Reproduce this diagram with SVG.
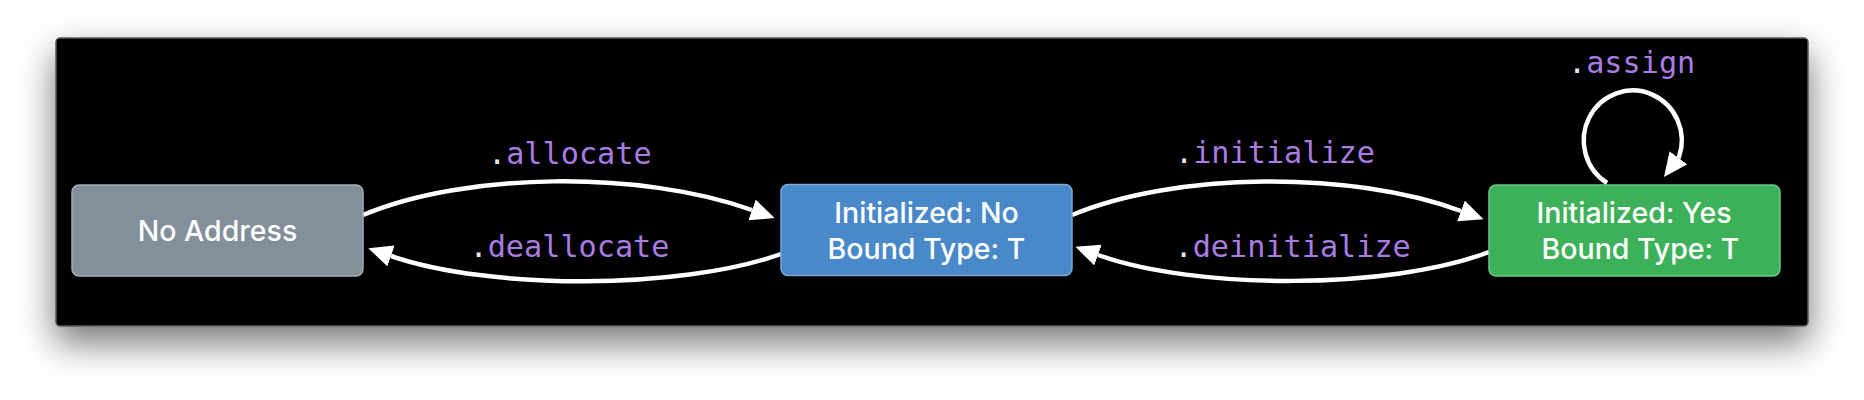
<svg xmlns="http://www.w3.org/2000/svg" width="1864" height="400" viewBox="0 0 1864 400">
<style>
.node-label{font-family:Inter,"Liberation Sans",Arial,sans-serif;font-weight:500;font-size:28.5px;fill:#ffffff;text-anchor:middle}
.edge-label{font-family:"DejaVu Sans Mono","Liberation Mono",monospace;font-size:30.2px;fill:#a97ce3}
.dot{fill:#e6e6e6}
.edge{fill:none;stroke:#ffffff;stroke-width:4.5;marker-end:url(#arrow)}
</style>
<defs>
<filter id="shadow" x="-10%" y="-30%" width="120%" height="170%">
<feDropShadow dx="0" dy="16" stdDeviation="18" flood-color="#000" flood-opacity="0.55"/>
</filter>
<marker id="arrow" markerUnits="userSpaceOnUse" markerWidth="26" markerHeight="24" refX="0" refY="11" orient="auto">
<path d="M0,0 L24,11 L0,22 z" fill="#ffffff"/>
</marker>
</defs>
<rect width="1864" height="400" fill="#ffffff"/>
<rect id="frame" x="56" y="38" width="1752" height="288" rx="4" fill="#000000" stroke="#5a5a5a" stroke-width="1.5" filter="url(#shadow)"/>

<g id="connectors">
<path class="edge" d="M363,215 C465,172 640,170 752,210"/>
<path class="edge" d="M781,254 C680,290 490,290 391,256"/>
<path class="edge" d="M1072,215 C1175,172 1350,170 1461,211"/>
<path class="edge" d="M1489,252 C1390,290 1195,290 1098,255"/>
<path class="edge" d="M1607,183 A49,50 0 1 1 1679,157 l-0.6,0.8"/>
<text class="edge-label" x="488" y="164"><tspan class="dot">.</tspan>allocate</text>
<text class="edge-label" x="469.5" y="257"><tspan class="dot">.</tspan>deallocate</text>
<text class="edge-label" x="1175" y="163"><tspan class="dot">.</tspan>initialize</text>
<text class="edge-label" x="1174.5" y="257"><tspan class="dot">.</tspan>deinitialize</text>
<text class="edge-label" x="1568" y="73"><tspan class="dot">.</tspan>assign</text>
</g>

<g id="node-no-address">
<rect x="72" y="185" width="291" height="91" rx="7" fill="#848f9c" stroke="#a3acb7" stroke-width="1.5"/>
<text class="node-label" x="217.5" y="241">No Address</text>
</g>

<g id="node-initialized-no">
<rect x="781" y="184.5" width="291" height="91" rx="7" fill="#4a89c9" stroke="#7aa9da" stroke-width="1.5"/>
<text class="node-label" x="926.5" y="223">Initialized: No</text>
<text class="node-label" x="926.5" y="258.5">Bound Type: T</text>
</g>

<g id="node-initialized-yes">
<rect x="1489" y="185" width="291" height="91" rx="7" fill="#3db15a" stroke="#6cc784" stroke-width="1.5"/>
<text class="node-label" x="1634" y="223">Initialized: Yes</text>
<text class="node-label" x="1640.5" y="258.5">Bound Type: T</text>
</g>
</svg>
